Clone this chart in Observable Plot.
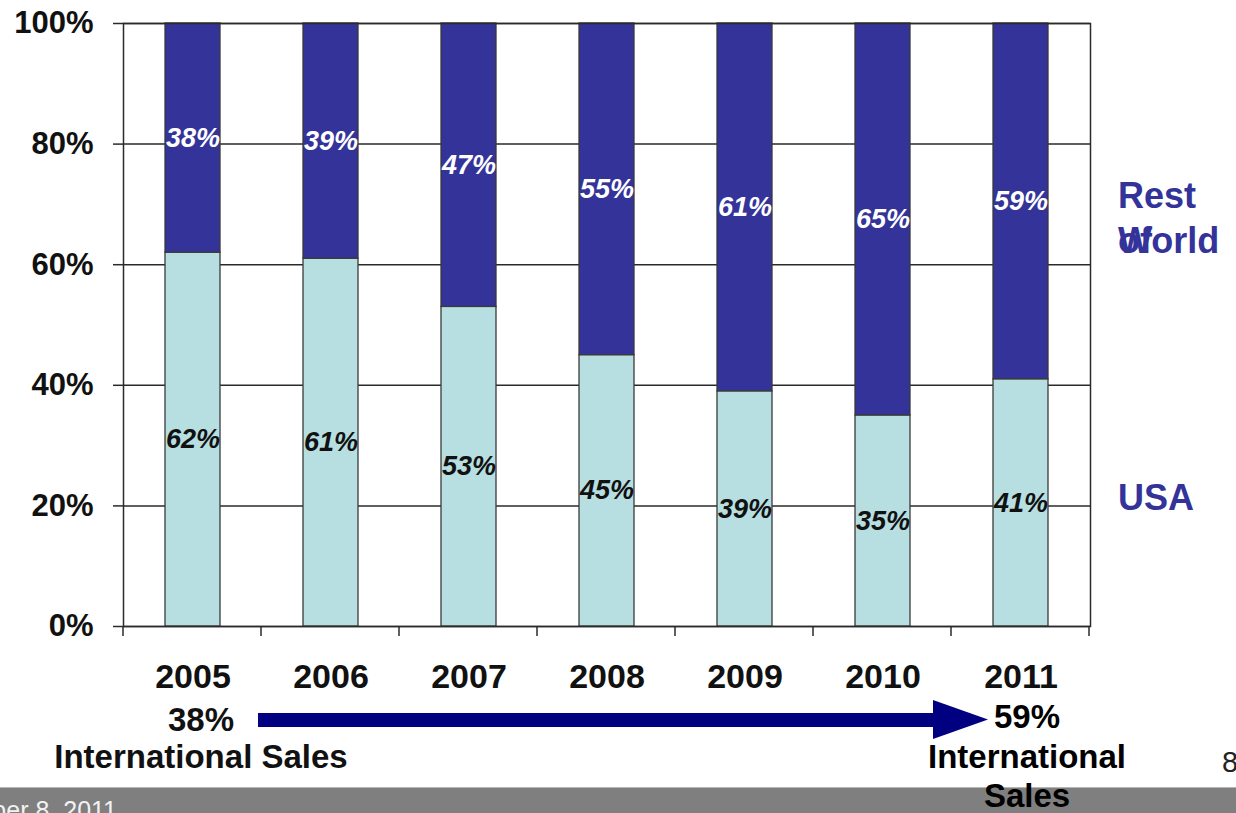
<!DOCTYPE html>
<html>
<head>
<meta charset="utf-8">
<script src="https://cdn.jsdelivr.net/npm/d3@7"></script>
<script src="https://cdn.jsdelivr.net/npm/@observablehq/plot@0.6"></script>
<style>
  html, body { margin: 0; padding: 0; background: #fff; overflow: hidden; }
  svg { display: block; }
</style>
</head>
<body>
<script>
const years = ["2005", "2006", "2007", "2008", "2009", "2010", "2011"];
const usa = [62, 61, 53, 45, 39, 35, 41];
const restOfWorld = [38, 39, 47, 55, 61, 65, 59];
const regions = ["USA", "Rest of World"];
const yTicks = [0, 0.2, 0.4, 0.6, 0.8, 1];

const table = [];
years.forEach((y, i) => {
  table.push({year: y, region: "USA", value: usa[i]});
  table.push({year: y, region: "Rest of World", value: restOfWorld[i]});
});

const FONT = "'Liberation Sans', Arial, Helvetica, sans-serif";
const labelOpts = {fontSize: 27, fontWeight: "bold", fontStyle: "italic"};

const chart = Plot.plot({
  width: 1236,
  height: 813,
  marginLeft: 123,
  marginRight: 146,
  marginTop: 23,
  marginBottom: 187,
  style: {fontFamily: FONT, background: "#fff", color: "#111"},
  x: {domain: years, paddingInner: 0.6, paddingOuter: 0.3, label: null},
  y: {domain: [0, 1], label: null},
  color: {domain: regions, range: ["#b7dfe2", "#333399"]},
  marks: [
    Plot.gridY(yTicks, {stroke: "#2a2a2a", strokeOpacity: 1, strokeWidth: 1.5}),
    Plot.barY(table, {x: "year", y: d => d.value / 100, fill: "region", stroke: "#3a3a3a", strokeWidth: 1.3}),
    Plot.text(table, Plot.stackY({x: "year", y: d => d.value / 100, z: "region",
      text: d => d.region === "USA" ? d.value + "%" : "", fill: "#111", ...labelOpts})),
    Plot.text(table, Plot.stackY({x: "year", y: d => d.value / 100, z: "region",
      text: d => d.region === "USA" ? "" : d.value + "%", fill: "#fff", ...labelOpts})),
    Plot.frame({stroke: "#2a2a2a", strokeWidth: 1.5}),
    Plot.axisY(yTicks, {tickFormat: d => Math.round(d * 100) + "%", tickSize: 10, tickPadding: 20,
      fontSize: 31, fontWeight: "bold", stroke: "#2a2a2a", strokeWidth: 1.5, label: null}),
    Plot.axisX({tickSize: 0, tickPadding: 37, fontSize: 34, fontWeight: "bold", label: null})
  ]
});

document.body.appendChild(chart);

// post-processing: boundary ticks, annotations
const svg = d3.select(chart);
const xs = chart.scale("x");
const ys = chart.scale("y");
const x0 = xs.range[0], step = xs.step;
const yBase = ys.apply(0);
const g = svg.append("g").attr("font-family", FONT).attr("text-anchor", "start");

years.concat(["end"]).forEach((_, k) => {
  g.append("line")
    .attr("x1", x0 + k * step).attr("x2", x0 + k * step)
    .attr("y1", yBase).attr("y2", yBase + 10)
    .attr("stroke", "#2a2a2a").attr("stroke-width", 1.5);
});

// bottom gray band
g.append("rect").attr("x", 0).attr("y", 787).attr("width", 1236).attr("height", 26).attr("fill", "#7f7f7f");
g.append("line").attr("x1", 0).attr("x2", 1236).attr("y1", 787.5).attr("y2", 787.5).attr("stroke", "#b5b5b5").attr("stroke-width", 1);
g.append("text").attr("x", 117).attr("y", 819).attr("text-anchor", "end")
  .attr("font-size", 25).attr("fill", "#f2f2f2").text("November 8, 2011");

// arrow
g.append("rect").attr("x", 258).attr("y", 713).attr("width", 680).attr("height", 14).attr("fill", "#000080");
g.append("path").attr("d", "M933,700 L988,719.5 L933,739 Z").attr("fill", "#000080");

// left annotation
g.append("text").attr("x", 201).attr("y", 731).attr("text-anchor", "middle")
  .attr("font-size", 33).attr("font-weight", "bold").attr("fill", "#111").text("38%");
g.append("text").attr("x", 201).attr("y", 768).attr("text-anchor", "middle")
  .attr("font-size", 33).attr("font-weight", "bold").attr("fill", "#111").text("International Sales");

// right annotation
[["59%", 728], ["International", 768], ["Sales", 807]].forEach(([t, y]) => {
  g.append("text").attr("x", 1027).attr("y", y).attr("text-anchor", "middle")
    .attr("font-size", 33).attr("font-weight", "bold").attr("fill", "#000").text(t);
});

// page number
g.append("text").attr("x", 1222).attr("y", 772).attr("text-anchor", "start").attr("font-size", 29).attr("fill", "#222").text("8");

// series labels on the right
const legendColor = "#333399";
const leg = (t, y) => g.append("text").attr("x", 1118).attr("y", y).attr("text-anchor", "start")
  .attr("font-size", 36).attr("font-weight", "bold").attr("fill", legendColor).text(t);
leg("Rest", 208);
leg("of", 253);
leg("World", 253);
leg("USA", 510);
</script>
</body>
</html>
